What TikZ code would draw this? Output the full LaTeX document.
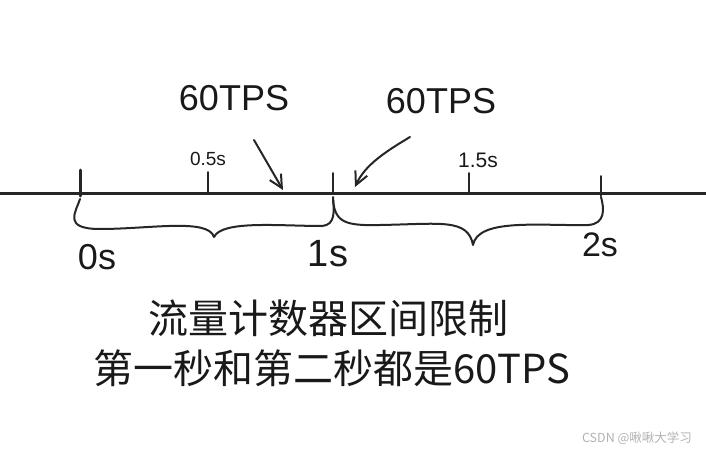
\documentclass[tikz,border=0pt]{standalone}
\usepackage{fontspec}
\setmainfont{Liberation Sans}
\newfontfamily\cjk{Noto Sans CJK SC}
\usetikzlibrary{arrows.meta}
\begin{document}
\begin{tikzpicture}[x=1pt,y=-1pt,
  ink/.style={draw=black!85, line cap=round, line join=round},
  tick/.style={ink, line width=1.8pt},
  bracestyle/.style={ink, line width=2pt},
  arr/.style={ink, line width=2pt, -{Straight Barb[length=13pt,width=13pt,line width=2pt]}},
  lbl/.style={inner sep=0pt, text=black!90}]
\useasboundingbox (0,0) rectangle (706,452);
% axis
\coordinate (aL) at (0,193);
\coordinate (aR) at (706,193);
\draw[ink, line width=3pt] (aL) -- (aR);
% ticks
\coordinate (t0a) at (80,170); \coordinate (t0b) at (80,196);
\coordinate (t05a) at (208,172); \coordinate (t05b) at (208,193);
\coordinate (t1a) at (333,173); \coordinate (t1b) at (333,193);
\coordinate (t15a) at (469,173); \coordinate (t15b) at (469,193);
\coordinate (t2a) at (601,176); \coordinate (t2b) at (601,196);
\draw[tick, line width=3pt] (t0a) -- (t0b);
\draw[tick] (t05a) -- (t05b);
\draw[tick] (t1a) -- (t1b);
\draw[tick] (t15a) -- (t15b);
\draw[tick] (t2a) -- (t2b);
% tick labels
\node[lbl, font=\fontsize{19}{19}\selectfont] (l05) at (208,159) {0.5s};
\node[lbl, font=\fontsize{21}{21}\selectfont] (l15) at (478,160) {1.5s};
\node[lbl, font=\fontsize{36}{36}\selectfont] (l0) at (97,257) {0s};
\node[lbl, font=\fontsize{38}{38}\selectfont] (l1) at (328,254) {1s};
\node[lbl, font=\fontsize{34}{34}\selectfont] (l2) at (600,245) {2s};
% 60TPS labels
\node[lbl, font=\fontsize{36}{36}\selectfont] (tpsL) at (234,98) {60TPS};
\node[lbl, font=\fontsize{36}{36}\selectfont] (tpsR) at (441,101) {60TPS};
% arrows
\coordinate (aLs) at (254,140); \coordinate (aLe) at (283,190);
\coordinate (aRs) at (410,137); \coordinate (aRe) at (355,187);
\draw[arr] (aLs) -- (aLe);
\draw[arr] (aRs) .. controls (385,152) and (365,165) .. (aRe);
% braces
\draw[bracestyle] (80,199) .. controls (76,212) and (62,229) .. (100,229)
  .. controls (150,229) and (208,218) .. (214,237)
  .. controls (222,220) and (280,226) .. (322,226)
  .. controls (336,225) and (334,210) .. (333,197);
\draw[bracestyle] (333,200) .. controls (335,222) and (345,226) .. (380,225)
  .. controls (440,224) and (468,218) .. (473,245)
  .. controls (478,218) and (540,226) .. (588,225)
  .. controls (606,224) and (604,208) .. (601,197);
% caption
\node[lbl, font=\cjk\fontsize{40}{40}\selectfont] (cap1) at (328,318) {流量计数器区间限制};
\node[lbl, font=\cjk\fontsize{40}{40}\selectfont] (cap2) at (332,368) {第一秒和第二秒都是60TPS};
% watermark
\node[lbl, text=black!30, font=\cjk\fontsize{12.5}{12.5}\selectfont] (wm) at (637,438) {CSDN @啾啾大学习};
\end{tikzpicture}
\end{document}
